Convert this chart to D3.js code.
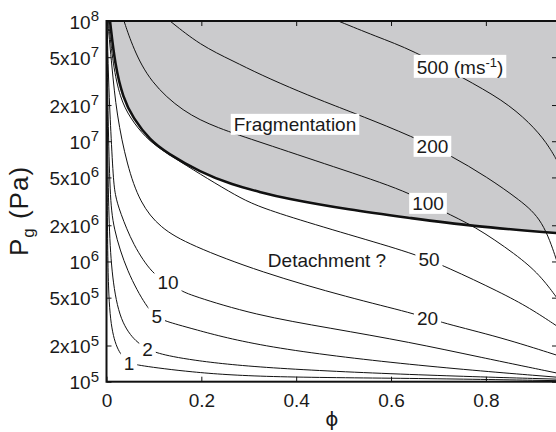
<!DOCTYPE html>
<html><head><meta charset="utf-8">
<script src="https://cdn.jsdelivr.net/npm/d3@7"></script>
<style>
body{margin:0;background:#fff}
svg{display:block}
text{font-family:"Liberation Sans", Arial, Helvetica, sans-serif; fill:#1a1a1a}
</style>
</head><body>
<svg id="c" width="556" height="432"></svg>
<script>
// ---------- data (phi, Pg in Pa) ----------
const phiDomain = [0, 0.95];
const pDomain = [1e5, 1e8];
const xTicks = [0, 0.2, 0.4, 0.6, 0.8];
const xTickLabels = ["0", "0.2", "0.4", "0.6", "0.8"];
const yTicks = [1e5, 2e5, 5e5, 1e6, 2e6, 5e6, 1e7, 2e7, 5e7, 1e8];
const yTickMant = ["", "2x", "5x", "", "2x", "5x", "", "2x", "5x", ""];
const yTickExp = ["5", "5", "5", "6", "6", "6", "7", "7", "7", "8"];

const fragBoundary = [[0.0074,1e8],[0.0179,4.31e7],[0.0348,2.29e7],[0.0559,1.56e7],[0.0917,1.02e7],[0.1276,7.98e6],[0.1972,5.54e6],[0.2668,4.32e6],[0.3237,3.78e6],[0.3722,3.37e6],[0.5135,2.68e6],[0.64,2.30e6],[0.7666,1.97e6],[0.95,1.72e6]];

const v500 = [[0.4886,1e8],[0.5662,7.5e7],[0.6470,5.7e7],[0.7518,3.36e7],[0.8361,2.2e7],[0.8931,1.42e7],[0.9289,9.66e6],[0.95,6.9e6]];
const v200 = [[0.1339,1e8],[0.1972,6.31e7],[0.2668,4.65e7],[0.3237,3.59e7],[0.4081,2.57e7],[0.4776,2.0e7],[0.5346,1.64e7],[0.6463,1.09e7],[0.7244,7.67e6],[0.8024,5.04e6],[0.872,3.24e6],[0.9205,2.21e6],[0.95,1.0e6]];
const v100 = [[0.0369,1e8],[0.0559,5.96e7],[0.0917,3.11e7],[0.1613,1.75e7],[0.233,1.29e7],[0.3237,9.84e6],[0.4776,6.16e6],[0.64,3.78e6],[0.7096,2.58e6],[0.7729,2.01e6],[0.8657,1.13e6],[0.9142,7.71e5],[0.95,4.97e5]];
const v50 = [[0.0042,1e8],[0.0137,4.31e7],[0.0285,2.29e7],[0.0496,1.56e7],[0.0833,1.06e7],[0.117,8.45e6],[0.1402,7.39e6],[0.1972,5.33e6],[0.2604,3.78e6],[0.3026,3.06e6],[0.3659,2.48e6],[0.5135,1.66e6],[0.6463,1.17e6],[0.718,8.98e5],[0.8298,5.56e5],[0.8931,4.09e5],[0.95,2.9e5]];
const v20 = [[0.0025,1e8],[0.011,4.31e7],[0.0215,1.65e7],[0.0432,6.34e6],[0.0706,3.06e6],[0.1128,1.9e6],[0.1761,1.37e6],[0.3237,8.17e5],[0.5135,4.97e5],[0.6463,3.72e5],[0.7096,3.07e5],[0.8298,2.35e5],[0.95,1.66e5]];
const v10 = [[0.0012,1e8],[0.0042,3.23e7],[0.0074,1.65e7],[0.0137,5.24e6],[0.0179,3.56e6],[0.0285,2.58e6],[0.0559,1.37e6],[0.0981,7.71e5],[0.1297,6.74e5],[0.155,5.78e5],[0.1761,5.25e5],[0.3132,3.58e5],[0.4713,2.79e5],[0.64,2.13e5],[0.7876,1.6e5],[0.95,1.18e5]];
const v5 = [[0.0006,1e8],[0.0032,1.5e7],[0.0074,3.56e6],[0.0137,1.9e6],[0.0432,8.17e5],[0.0854,4.09e5],[0.1065,3.44e5],[0.1234,3.19e5],[0.1761,2.79e5],[0.3237,1.94e5],[0.64,1.37e5],[0.95,1.09e5]];
const v2 = [[0.0002,1e8],[0.0021,8.45e6],[0.0053,1.9e6],[0.0116,7.28e5],[0.0285,3.13e5],[0.0643,2.09e5],[0.0854,1.91e5],[0.1023,1.73e5],[0.1761,1.51e5],[0.3237,1.3e5],[0.64,1.14e5],[0.95,1.05e5]];
const v1 = [[0.0001,1e8],[0.0015,3.24e6],[0.0032,5.25e5],[0.0116,2.44e5],[0.0285,1.66e5],[0.0496,1.43e5],[0.0643,1.37e5],[0.1761,1.2e5],[0.3237,1.09e5],[0.64,1.07e5],[0.95,1.02e5]];

const contourSeries = [v500, v200, v100, v50, v20, v10, v5, v2, v1];

const contourLabels = [
  {t:"500 (ms", sup:"-1", tail:")", phi:0.7455, p:4.14e7},
  {t:"200", phi:0.6873, p:9.12e6},
  {t:"100", phi:0.678, p:3.06e6},
  {t:"50", phi:0.68, p:1.05e6},
  {t:"20", phi:0.677, p:3.38e5},
  {t:"10", phi:0.1297, p:6.67e5},
  {t:"5", phi:0.1059, p:3.48e5},
  {t:"2", phi:0.0865, p:1.85e5},
  {t:"1", phi:0.0474, p:1.42e5}
];
const regionLabels = [
  {t:"Fragmentation", phi:0.3975, p:1.39e7},
  {t:"Detachment ?", phi:0.465, p:1.03e6}
];

// ---------- drawing ----------
const svg = d3.select("#c");
const x = d3.scaleLinear().domain(phiDomain).range([106.5, 557]);
const y = d3.scaleLog().domain(pDomain).range([381.7, 21]);
const x0 = x(phiDomain[0]), x1 = x(phiDomain[1]), yTop = y(pDomain[1]), yBot = y(pDomain[0]);

svg.append("defs").append("clipPath").attr("id","clip")
  .append("rect").attr("x",x0).attr("y",yTop).attr("width",x1-x0).attr("height",yBot-yTop);

const plot = svg.append("g").attr("clip-path","url(#clip)");
const line = d3.line().x(d=>x(d[0])).y(d=>y(d[1])).curve(d3.curveBasis);

// gray fragmentation region
plot.append("path")
  .attr("d", line(fragBoundary) + `L${x1},${yTop}Z`)
  .attr("fill","#cbcbcd").attr("stroke","none");

// contour lines
plot.selectAll("path.contour").data(contourSeries).join("path")
  .attr("class","contour")
  .attr("d", d=>line(d))
  .attr("fill","none").attr("stroke","#111").attr("stroke-width",1);

// thick boundary
plot.append("path").attr("d", line(fragBoundary))
  .attr("fill","none").attr("stroke","#111").attr("stroke-width",2.6);

// labels
const FS = 19;
function addLabel(d, boxed){
  const g = svg.append("g");
  const t = g.append("text")
    .attr("x", x(d.phi)).attr("y", y(d.p) + 6.8)
    .attr("text-anchor","middle").attr("font-size",FS);
  t.append("tspan").text(d.t);
  if (d.sup){
    t.append("tspan").attr("font-size",13).attr("dy",-7).text(d.sup);
    t.append("tspan").attr("dy",7).text(d.tail);
  }
  if (boxed){
    const b = t.node().getBBox();
    g.insert("rect","text").attr("x",b.x-3).attr("y",b.y).attr("width",b.width+6).attr("height",b.height)
      .attr("fill","#fff");
  }
}
contourLabels.forEach(d=>addLabel(d,true));
regionLabels.forEach(d=>addLabel(d,true));

// axes
const gx = svg.append("g").attr("transform",`translate(0,${yBot})`)
  .call(d3.axisBottom(x).tickValues(xTicks).tickSize(-5).tickSizeOuter(0).tickPadding(12)
    .tickFormat((d,i)=>xTickLabels[i]));
const gxt = svg.append("g").attr("transform",`translate(0,${yTop})`)
  .call(d3.axisTop(x).tickValues(xTicks).tickSize(-5).tickSizeOuter(0).tickFormat(""));
const gy = svg.append("g").attr("transform",`translate(${x0},0)`)
  .call(d3.axisLeft(y).tickValues(yTicks).tickSize(-5).tickSizeOuter(0).tickPadding(7.5).tickFormat(""));
const gyr = svg.append("g").attr("transform",`translate(${x1},0)`)
  .call(d3.axisRight(y).tickValues(yTicks).tickSize(-5).tickSizeOuter(0).tickFormat(""));

[gx,gxt,gy,gyr].forEach(g=>{
  g.select(".domain").remove();
  g.selectAll(".tick line").attr("stroke","#111").attr("stroke-width",1);
  g.selectAll(".tick text").attr("font-size",FS).attr("fill","#1a1a1a").attr("font-family",null);
});

gy.selectAll(".tick text").each(function(d){
  const i = yTicks.indexOf(d);
  const t = d3.select(this);
  t.text(null).attr("dy",null).attr("y",7);
  t.append("tspan").text(yTickMant[i] + "10");
  t.append("tspan").attr("dy",-7.5).attr("font-size",15).text(yTickExp[i]);
});

// frame
svg.append("rect").attr("x",x0).attr("y",yTop).attr("width",x1-x0).attr("height",yBot-yTop)
  .attr("fill","none").attr("stroke","#111").attr("stroke-width",2);

// axis titles
svg.append("text").attr("x",(x0+x1)/2).attr("y",426).attr("text-anchor","middle")
  .attr("font-size",20).style("font-family","'DejaVu Sans', sans-serif").text("ϕ");

const yl = svg.append("text").attr("transform",`translate(28,211) rotate(-90)`)
  .attr("text-anchor","middle").attr("font-size",26).attr("letter-spacing",1);
yl.append("tspan").text("P");
yl.append("tspan").attr("font-size",17).attr("dy",6).text("g");
yl.append("tspan").attr("dy",-6).text(" (Pa)");
</script>
</body></html>
